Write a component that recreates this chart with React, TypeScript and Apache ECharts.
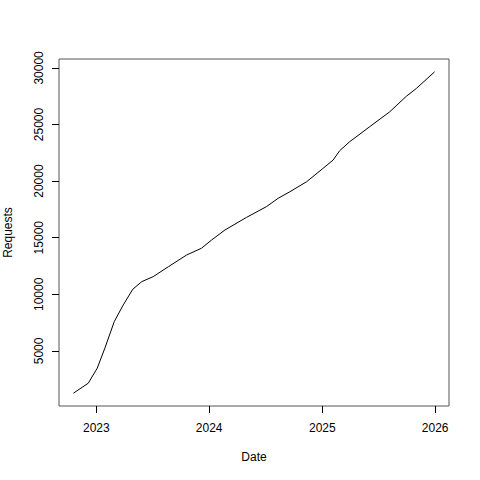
import React, { useEffect, useRef } from "react";
import * as echarts from "echarts";

const dates = [
  "2022-10-19", "2022-12-06", "2023-01-04", "2023-01-29", "2023-02-28",
  "2023-03-29", "2023-04-29", "2023-05-28", "2023-07-04", "2023-08-22",
  "2023-10-20", "2023-12-07", "2024-01-09", "2024-02-21", "2024-05-01",
  "2024-07-04", "2024-08-11", "2024-09-18", "2024-11-11", "2025-01-03",
  "2025-02-05", "2025-02-26", "2025-03-30", "2025-06-03", "2025-08-07",
  "2025-09-30", "2025-11-01", "2025-12-30",
];
const requests = [
  1270, 2150, 3480, 5270, 7590,
  9060, 10450, 11120, 11560, 12440,
  13470, 14070, 14800, 15680, 16800,
  17740, 18480, 19060, 19940, 21120,
  21860, 22680, 23470, 24800, 26120,
  27500, 28180, 29650,
];
const xTickYears = [2023, 2024, 2025, 2026];
const yTicks = [5000, 10000, 15000, 20000, 25000, 30000];

const FONT = "'Liberation Sans', Arial, Helvetica, sans-serif";

export default function App() {
  const ref = useRef<HTMLDivElement>(null);
  useEffect(() => {
    if (!ref.current) return;
    const chart = echarts.init(ref.current, undefined, { renderer: "svg" });
    const xs = dates.map((d) => new Date(d + "T00:00:00Z").getTime());
    const xMin0 = Math.min(...xs);
    const xMax0 = Math.max(...xs);
    const yMin0 = Math.min(...requests);
    const yMax0 = Math.max(...requests);
    const xPad = (xMax0 - xMin0) * 0.04;
    const yPad = (yMax0 - yMin0) * 0.04;
    const xTicks = xTickYears.map((y) => Date.UTC(y, 0, 1));
    const data = xs.map((x, i) => [x, requests[i]]);

    chart.setOption({
      animation: false,
      backgroundColor: "#ffffff",
      textStyle: { fontFamily: FONT },
      grid: {
        left: 59,
        right: 31,
        top: 59,
        bottom: 74,
        containLabel: false,
        outerBoundsMode: "none",
        show: true,
        borderColor: "#555",
        borderWidth: 1,
        backgroundColor: "transparent",
      },
      xAxis: {
        type: "value",
        min: xMin0 - xPad,
        max: xMax0 + xPad,
        name: "Date",
        nameLocation: "middle",
        nameGap: 45,
        nameTextStyle: { color: "#000", fontSize: 12, fontFamily: FONT },
        axisLine: { show: false },
        splitLine: { show: false },
        axisTick: {
          show: true,
          length: 7,
          customValues: xTicks,
          lineStyle: { color: "#000", width: 1 },
        },
        axisLabel: {
          show: true,
          customValues: xTicks,
          margin: 16,
          color: "#000",
          fontSize: 12,
          fontFamily: FONT,
          formatter: (v: number) => String(new Date(v).getUTCFullYear()),
        },
      },
      yAxis: {
        type: "value",
        min: yMin0 - yPad,
        max: yMax0 + yPad,
        name: "Requests",
        nameLocation: "middle",
        nameRotate: 90,
        nameGap: 45,
        nameTextStyle: { color: "#000", fontSize: 12, fontFamily: FONT },
        axisLine: { show: false },
        splitLine: { show: false },
        axisTick: {
          show: true,
          length: 7,
          customValues: yTicks,
          lineStyle: { color: "#000", width: 1 },
        },
        axisLabel: {
          show: true,
          customValues: yTicks,
          rotate: 90,
          margin: 14,
          color: "#000",
          fontSize: 12,
          fontFamily: FONT,
          formatter: (v: number) => String(v),
        },
      },
      series: [
        {
          type: "line",
          data,
          showSymbol: false,
          symbol: "none",
          lineStyle: { color: "#000", width: 1 },
        },
      ],
    });
    return () => chart.dispose();
  }, []);
  return (
    <div
      ref={ref}
      style={{ position: "fixed", left: 0, top: 0, width: 480, height: 480, background: "#fff" }}
    />
  );
}
